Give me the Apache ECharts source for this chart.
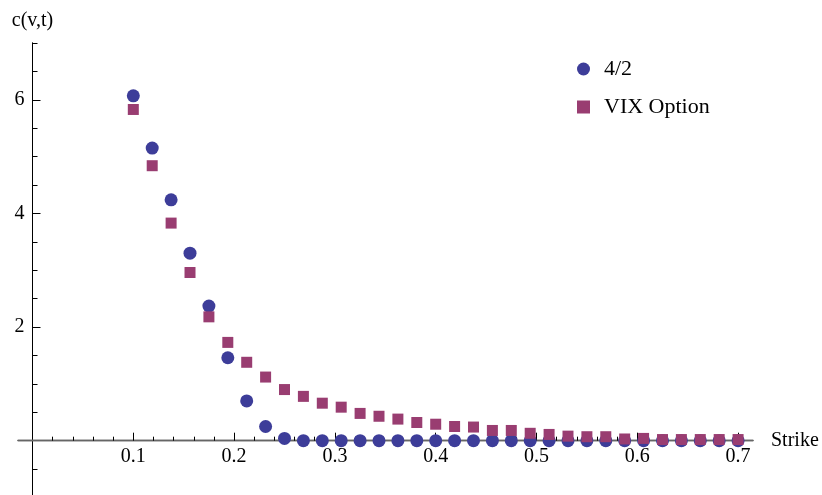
<!DOCTYPE html>
<html>
<head>
<meta charset="utf-8">
<script src="https://cdn.jsdelivr.net/npm/echarts@6/dist/echarts.min.js"></script>
<style>
html, body { margin: 0; padding: 0; background: #fff; }
#main { width: 822px; height: 495px; }
</style>
</head>
<body>
<div id="main"></div>
<script>
// strikes (x values)
var strikes = [0.1, 0.11875, 0.1375, 0.15625, 0.175, 0.19375, 0.2125, 0.23125, 0.25, 0.26875,
    0.2875, 0.30625, 0.325, 0.34375, 0.3625, 0.38125, 0.4, 0.41875, 0.4375, 0.45625,
    0.475, 0.49375, 0.5125, 0.53125, 0.55, 0.56875, 0.5875, 0.60625, 0.625, 0.64375,
    0.6625, 0.68125, 0.7];
// 4/2 model
var model42 = [6.07, 5.15, 4.24, 3.30, 2.37, 1.46, 0.70, 0.25, 0.04, 0, 0, 0, 0, 0, 0, 0, 0,
    0, 0, 0, 0, 0, 0, 0, 0, 0, 0, 0, 0, 0, 0, 0, 0];
// VIX option prices
var vixOption = [5.83, 4.84, 3.83, 2.96, 2.18, 1.73, 1.38, 1.12, 0.90, 0.78, 0.66, 0.59, 0.48,
    0.43, 0.38, 0.32, 0.29, 0.25, 0.24, 0.18, 0.18, 0.13, 0.11, 0.08, 0.07, 0.07, 0.03, 0.04,
    0.02, 0.02, 0.02, 0.02, 0.02];
// ticks
var xMajor = [0.1, 0.2, 0.3, 0.4, 0.5, 0.6, 0.7];
var xMinor = [0.02, 0.04, 0.06, 0.08, 0.12, 0.14, 0.16, 0.18, 0.22, 0.24, 0.26, 0.28,
    0.32, 0.34, 0.36, 0.38, 0.42, 0.44, 0.46, 0.48, 0.52, 0.54, 0.56, 0.58,
    0.62, 0.64, 0.66, 0.68];
var yMajor = [2, 4, 6];
var yMinor = [-0.5, 0.5, 1, 1.5, 2.5, 3, 3.5, 4.5, 5, 5.5, 6.5, 7];

var font = 'Liberation Serif';
var xMin = -0.0144, xMax = 0.7148, yMin = -0.956, yMax = 7.0;
var gridLeft = 18, gridRight = 69, gridTop = 43, gridBottom = 0;
var W = 822, H = 495;

// where the zero lines fall, so the label axes can be shifted onto them
var gw = W - gridLeft - gridRight, gh = H - gridTop - gridBottom;
var zeroX = gridLeft + (0 - xMin) / (xMax - xMin) * gw;
var zeroY = gridTop + (yMax - 0) / (yMax - yMin) * gh;

function pairs(ys) {
    return strikes.map(function (x, i) { return [x, ys[i]]; });
}

var myChart = echarts.init(document.getElementById('main'));
myChart.setOption({
    animation: false,
    color: ['#3d3d99', '#993d71'],
    grid: { left: gridLeft, right: gridRight, top: gridTop, bottom: gridBottom,
        containLabel: false, outerBoundsMode: 'none' },
    legend: {
        orient: 'vertical',
        left: 572,
        top: 53,
        itemWidth: 13,
        itemHeight: 13,
        itemGap: 16,
        textStyle: { fontFamily: font, fontSize: 22, lineHeight: 22, color: '#000', padding: [0, 0, 0, 9] },
        data: [{ name: '4/2', icon: 'circle' }, { name: 'VIX Option', icon: 'rect' }]
    },
    xAxis: [{
        type: 'value', min: xMin, max: xMax, position: 'bottom',
        axisLine: { onZero: true, lineStyle: { color: '#666', width: 1.3 } },
        axisTick: { inside: true, length: 4, customValues: xMinor, lineStyle: { color: '#000' } },
        axisLabel: { show: false },
        splitLine: { show: false }
    }, {
        type: 'value', min: xMin, max: xMax, position: 'bottom',
        offset: -(H - gridBottom - zeroY),
        name: 'Strike', nameLocation: 'end', nameGap: 18,
        nameTextStyle: { fontFamily: font, fontSize: 20, color: '#000' },
        axisLine: { onZero: false, lineStyle: { color: '#666', width: 1.3 } },
        axisTick: { inside: true, length: 8, customValues: xMajor, lineStyle: { color: '#000' } },
        axisLabel: { customValues: xMajor, margin: 6, fontFamily: font, fontSize: 20, color: '#000' },
        splitLine: { show: false }
    }],
    yAxis: [{
        type: 'value', min: yMin, max: yMax, position: 'left',
        name: 'c(v,t)', nameLocation: 'end', nameGap: 12,
        nameTextStyle: { fontFamily: font, fontSize: 20, color: '#000', align: 'center' },
        axisLine: { onZero: true, lineStyle: { color: '#000', width: 1 } },
        axisTick: { inside: true, length: 5, customValues: yMinor, lineStyle: { color: '#000' } },
        axisLabel: { show: false },
        splitLine: { show: false }
    }, {
        type: 'value', min: yMin, max: yMax, position: 'left',
        offset: -(zeroX - gridLeft),
        axisLine: { onZero: false, lineStyle: { color: '#000', width: 1 } },
        axisTick: { inside: true, length: 8, customValues: yMajor, lineStyle: { color: '#000' } },
        axisLabel: { customValues: yMajor, margin: 8, fontFamily: font, fontSize: 20, color: '#000' },
        splitLine: { show: false }
    }],
    series: [{
        name: '4/2',
        type: 'scatter',
        symbol: 'circle',
        symbolSize: 13,
        itemStyle: { opacity: 1 },
        data: pairs(model42)
    }, {
        name: 'VIX Option',
        type: 'scatter',
        symbol: 'rect',
        symbolSize: 11,
        itemStyle: { opacity: 1 },
        data: pairs(vixOption)
    }]
});
</script>
</body>
</html>
